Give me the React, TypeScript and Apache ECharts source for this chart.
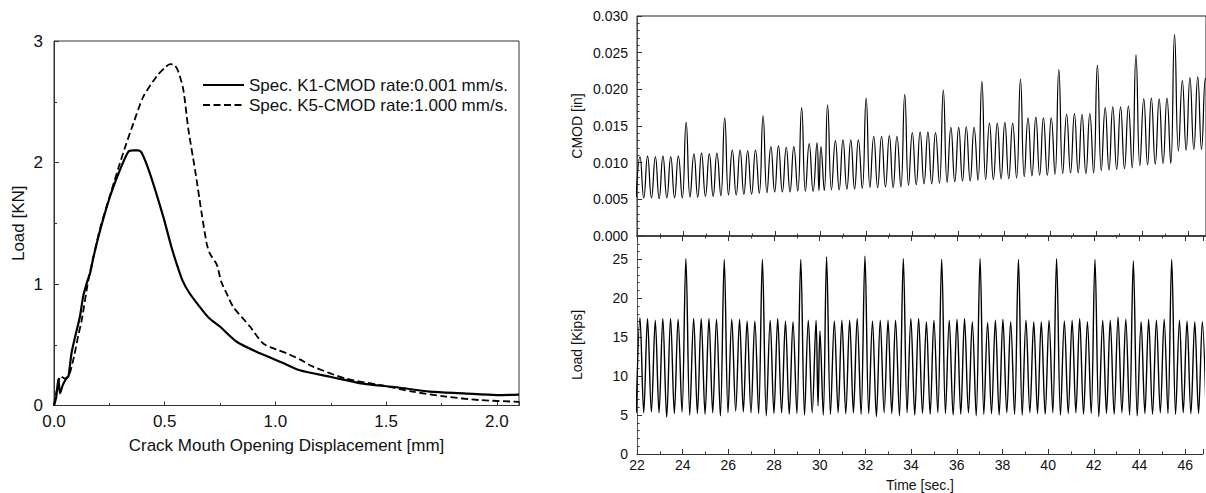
import React, { useEffect, useRef } from "react";
import * as echarts from "echarts";

const FONT = "'Liberation Sans', Arial, Helvetica, sans-serif";
const INK = "#111";
const AX = "#333";

// ---------- Left panel: Load vs CMOD ----------
const k1Cmod = [0, 0.01, 0.02, 0.027, 0.04, 0.055, 0.065, 0.07, 0.08, 0.1, 0.117, 0.132, 0.15, 0.163, 0.178, 0.208, 0.253, 0.298, 0.336, 0.358, 0.38, 0.396, 0.433, 0.494, 0.531, 0.555, 0.58, 0.61, 0.659, 0.7, 0.749, 0.825, 0.93, 1.035, 1.11, 1.246, 1.396, 1.547, 1.697, 1.848, 1.999, 2.1];
const k1Load = [0, 0.07, 0.22, 0.1, 0.17, 0.22, 0.24, 0.3, 0.44, 0.6, 0.73, 0.9, 1.02, 1.09, 1.22, 1.44, 1.72, 1.94, 2.09, 2.1, 2.1, 2.08, 1.91, 1.55, 1.3, 1.16, 1.03, 0.93, 0.81, 0.72, 0.65, 0.525, 0.43, 0.35, 0.29, 0.237, 0.18, 0.15, 0.114, 0.1, 0.086, 0.09];
const k5Cmod = [0, 0.015, 0.03, 0.05, 0.07, 0.09, 0.11, 0.125, 0.155, 0.178, 0.21, 0.26, 0.29, 0.32, 0.358, 0.403, 0.464, 0.5, 0.524, 0.545, 0.561, 0.584, 0.607, 0.637, 0.667, 0.69, 0.704, 0.735, 0.755, 0.78, 0.81, 0.885, 0.945, 1.005, 1.05, 1.11, 1.17, 1.32, 1.47, 1.62, 1.77, 1.92, 2.1];
const k5Load = [0, 0.15, 0.24, 0.22, 0.26, 0.4, 0.58, 0.7, 1.03, 1.22, 1.47, 1.77, 1.95, 2.12, 2.32, 2.54, 2.71, 2.78, 2.81, 2.8, 2.75, 2.6, 2.27, 1.94, 1.58, 1.33, 1.25, 1.16, 1.02, 0.92, 0.81, 0.65, 0.51, 0.46, 0.43, 0.38, 0.32, 0.22, 0.17, 0.114, 0.073, 0.045, 0.03];
const legendNames = ["Spec. K1-CMOD rate:0.001 mm/s.", "Spec. K5-CMOD rate:1.000 mm/s."];

// ---------- Right panels: cyclic test (time of each load peak) ----------
const peakTimes = [
  22.13, 22.46, 22.8, 23.13, 23.47, 23.8, 24.14, 24.48, 24.81, 25.15, 25.48, 25.82,
  26.15, 26.49, 26.82, 27.16, 27.49, 27.83, 28.16, 28.5, 28.83, 29.17, 29.5, 29.84,
  30.01,
  30.3, 30.64, 30.97, 31.31, 31.64, 31.98, 32.31, 32.65, 32.99, 33.32,
  33.66, 33.99, 34.33, 34.67, 35.0, 35.34, 35.67, 36.01, 36.34, 36.68,
  37.02, 37.35, 37.69, 38.02, 38.36, 38.7, 39.03, 39.37, 39.7, 40.04,
  40.37, 40.71, 41.05, 41.38, 41.72, 42.05, 42.39, 42.72, 43.06, 43.4,
  43.73, 44.07, 44.4, 44.74, 45.08, 45.41, 45.75, 46.08, 46.42, 46.75,
];
const cmodPeaks = [
  0.0108, 0.0109, 0.0108, 0.0109, 0.0108, 0.0109, 0.0155, 0.0112, 0.0113, 0.0112, 0.0113, 0.0161,
  0.0117, 0.0117, 0.0116, 0.0117, 0.0164, 0.0122, 0.0123, 0.0121, 0.0122, 0.0175, 0.0126, 0.0127,
  0.0122,
  0.0179, 0.013, 0.0131, 0.0131, 0.0131, 0.0188, 0.0136, 0.0136, 0.0137, 0.0136,
  0.0193, 0.0141, 0.0142, 0.0142, 0.0141, 0.0199, 0.0148, 0.0148, 0.0149, 0.0148,
  0.0211, 0.0154, 0.0154, 0.0155, 0.0154, 0.0214, 0.0161, 0.0162, 0.0161, 0.0161,
  0.0227, 0.0166, 0.0167, 0.0166, 0.0167, 0.0233, 0.0175, 0.0176, 0.0176, 0.0177,
  0.0247, 0.0187, 0.0188, 0.0187, 0.0188, 0.0275, 0.0212, 0.0216, 0.0217, 0.0215,
];
const cmodTroughs = [
  0.0053, 0.0052, 0.0052, 0.0051, 0.0052, 0.0052, 0.0052, 0.0053, 0.0053, 0.0054, 0.0054, 0.0055,
  0.0056, 0.0056, 0.0057, 0.0057, 0.0058, 0.0059, 0.006, 0.006, 0.006, 0.0061, 0.0061, 0.0061,
  0.0062,
  0.0062, 0.0063, 0.0063, 0.0064, 0.0064, 0.0065, 0.0066, 0.0066, 0.0067, 0.0066,
  0.0067, 0.0069, 0.007, 0.0071, 0.0071, 0.0072, 0.0073, 0.0074, 0.0075, 0.0075,
  0.0076, 0.0077, 0.0077, 0.0078, 0.0078, 0.0079, 0.0081, 0.0082, 0.0083, 0.0083,
  0.0084, 0.0085, 0.0086, 0.0086, 0.0085, 0.0086, 0.0089, 0.009, 0.0091, 0.0092,
  0.0093, 0.0096, 0.0097, 0.0098, 0.0099, 0.0099, 0.0116, 0.0117, 0.0118, 0.0118,
  0.0119,
];
const loadPeaks = [
  17.5, 17.4, 17.2, 17.4, 17.4, 17.3, 25.1, 17.4, 17.4, 17.4, 17.3, 25.0,
  17.3, 17.3, 17.1, 17.1, 25.0, 17.2, 17.4, 17.1, 17.0, 25.0, 17.2, 17.2,
  15.8,
  25.3, 17.1, 17.2, 17.2, 17.4, 25.4, 17.1, 17.2, 17.2, 17.2,
  25.1, 17.4, 17.4, 17.0, 17.2, 25.0, 17.2, 17.3, 17.4, 17.0,
  25.1, 16.9, 17.2, 17.3, 17.0, 25.0, 17.2, 17.0, 17.0, 17.2,
  25.1, 17.1, 17.2, 17.4, 17.0, 25.0, 17.2, 17.2, 17.6, 17.3,
  24.8, 17.0, 17.3, 17.2, 17.3, 25.0, 17.2, 17.1, 17.0, 17.0,
];
const loadTroughs = [
  5.3, 5.3, 5.4, 5.3, 4.7, 5.2, 5.4, 5.0, 5.2, 5.1, 5.3, 4.9,
  5.3, 5.5, 5.4, 5.3, 5.2, 4.9, 5.2, 5.3, 5.1, 5.2, 5.0, 5.3,
  6.2,
  5.0, 5.1, 5.3, 5.2, 5.3, 5.1, 5.2, 4.8, 5.3, 5.2,
  4.9, 5.3, 5.0, 5.2, 5.1, 5.3, 5.2, 5.0, 5.1, 5.3,
  4.9, 5.1, 5.2, 5.0, 5.3, 5.1, 5.0, 5.3, 5.2, 5.1,
  5.3, 5.0, 5.2, 5.3, 5.1, 5.2, 4.8, 5.2, 5.1, 5.3,
  5.0, 4.9, 5.2, 5.1, 5.3, 5.2, 5.1, 5.3, 5.2, 5.2,
  5.3,
];

function pairs(xs: number[], ys: number[]) {
  return xs.map((x, i) => [x, ys[i]]);
}

// peaks at peakTimes, troughs half-way between consecutive peaks
function cycles(peaks: number[], troughs: number[]) {
  const n = peakTimes.length;
  const pts: number[][] = [];
  pts.push([peakTimes[0] - (peakTimes[1] - peakTimes[0]) / 2, troughs[0]]);
  for (let i = 0; i < n; i++) {
    pts.push([peakTimes[i], peaks[i]]);
    const tt = i < n - 1 ? (peakTimes[i] + peakTimes[i + 1]) / 2 : peakTimes[i] + (peakTimes[i] - peakTimes[i - 1]) / 2;
    pts.push([tt, troughs[i + 1]]);
  }
  return pts;
}

const isMult = (v: number, step: number) => Math.abs(v / step - Math.round(v / step)) < 1e-6;

function tickAxis(extra: any) {
  return {
    type: "value",
    axisLine: { show: false },
    axisLabel: { show: false },
    splitLine: { show: false },
    ...extra,
  };
}

const labelStyle = (size: number) => ({ fontSize: size, color: INK, fontFamily: FONT });

const option: any = {
  animation: false,
  backgroundColor: "#fff",
  textStyle: { fontFamily: FONT },
  grid: [
    { left: 54, top: 41, right: 687, bottom: 87.5, show: true, borderColor: AX, borderWidth: 1 },
    { left: 637, top: 16, right: -2, height: 220, show: true, borderColor: "#222", borderWidth: 1 },
    { left: 637, top: 236, right: -2, bottom: 38 },
  ],
  legend: {
    orient: "vertical",
    left: 197,
    top: 71.5,
    itemWidth: 41,
    itemHeight: 14,
    itemGap: 3,
    data: legendNames,
    itemStyle: { opacity: 0 },
    textStyle: { fontSize: 17, color: INK, fontFamily: FONT },
  },
  xAxis: [
    {
      type: "value", gridIndex: 0, position: "bottom", min: 0, max: 2.1, interval: 0.5,
      axisLine: { show: true, lineStyle: { color: AX, width: 1 } },
      axisTick: { show: true, inside: true, length: 4, lineStyle: { color: AX } },
      axisLabel: { ...labelStyle(17), margin: 7, formatter: (v: number) => (isMult(v, 0.5) ? v.toFixed(1) : "") },
      splitLine: { show: false },
      name: "Crack Mouth Opening Displacement [mm]", nameLocation: "middle", nameGap: 31,
      nameTextStyle: labelStyle(17),
    },
    tickAxis({ gridIndex: 0, position: "bottom", min: 0, max: 2.1, interval: 0.25,
      axisTick: { show: true, inside: true, length: 2.5, lineStyle: { color: AX } } }),
    {
      type: "value", gridIndex: 1, position: "bottom", min: 22, max: 46.78, interval: 2,
      axisLine: { show: true, lineStyle: { color: "#444", width: 2 } },
      axisTick: { show: true, inside: true, length: 5, lineStyle: { color: AX } },
      axisLabel: { show: false },
      splitLine: { show: false },
    },
    tickAxis({ gridIndex: 1, position: "bottom", min: 22, max: 46.78, interval: 1,
      axisTick: { show: true, inside: true, length: 2.5, lineStyle: { color: AX } } }),
    {
      type: "value", gridIndex: 2, position: "bottom", min: 22, max: 46.78, interval: 2,
      axisLine: { show: true, lineStyle: { color: AX, width: 1 } },
      axisTick: { show: true, inside: true, length: 5, lineStyle: { color: AX } },
      axisLabel: { ...labelStyle(14), margin: 4, formatter: (v: number) => (isMult(v, 2) ? String(Math.round(v)) : "") },
      splitLine: { show: false },
      name: "Time [sec.]", nameLocation: "middle", nameGap: 24, nameTextStyle: labelStyle(14),
    },
    tickAxis({ gridIndex: 2, position: "bottom", min: 22, max: 46.78, interval: 1,
      axisTick: { show: true, inside: true, length: 2.5, lineStyle: { color: AX } } }),
    tickAxis({ gridIndex: 2, position: "top", min: 22, max: 46.78, interval: 2,
      axisTick: { show: true, inside: true, length: 5, lineStyle: { color: AX } } }),
    tickAxis({ gridIndex: 2, position: "top", min: 22, max: 46.78, interval: 1,
      axisTick: { show: true, inside: true, length: 2.5, lineStyle: { color: AX } } }),
  ],
  yAxis: [
    {
      type: "value", gridIndex: 0, position: "left", min: 0, max: 3, interval: 1,
      axisLine: { show: true, lineStyle: { color: AX, width: 1 } },
      axisTick: { show: true, inside: true, length: 5, lineStyle: { color: AX } },
      axisLabel: { ...labelStyle(17), margin: 11 },
      splitLine: { show: false },
      name: "Load [KN]", nameLocation: "middle", nameGap: 27, nameTextStyle: labelStyle(17),
    },
    tickAxis({ gridIndex: 0, position: "left", min: 0, max: 3, interval: 0.5,
      axisTick: { show: true, inside: true, length: 3, lineStyle: { color: AX } } }),
    {
      type: "value", gridIndex: 1, position: "left", min: 0, max: 0.03, interval: 0.005,
      axisLine: { show: true, lineStyle: { color: "#555", width: 1 } },
      axisTick: { show: true, inside: true, length: 5, lineStyle: { color: AX } },
      axisLabel: { ...labelStyle(14), margin: 9, formatter: (v: number) => v.toFixed(3) },
      splitLine: { show: false },
      name: "CMOD [in]", nameLocation: "middle", nameGap: 53, nameTextStyle: labelStyle(14),
    },
    tickAxis({ gridIndex: 1, position: "left", min: 0, max: 0.03, interval: 0.001,
      axisTick: { show: true, inside: true, length: 2.5, lineStyle: { color: AX } } }),
    {
      type: "value", gridIndex: 2, position: "left", min: 0, max: 28, interval: 5,
      axisLine: { show: true, lineStyle: { color: "#555", width: 1 } },
      axisTick: { show: true, inside: true, length: 5, lineStyle: { color: AX } },
      axisLabel: { ...labelStyle(14), margin: 9, formatter: (v: number) => (isMult(v, 5) ? String(Math.round(v)) : "") },
      splitLine: { show: false },
      name: "Load [Kips]", nameLocation: "middle", nameGap: 53, nameTextStyle: labelStyle(14),
    },
    tickAxis({ gridIndex: 2, position: "left", min: 0, max: 28, interval: 1,
      axisTick: { show: true, inside: true, length: 2.5, lineStyle: { color: AX } } }),
  ],
  series: [
    {
      name: legendNames[0], type: "line", xAxisIndex: 0, yAxisIndex: 0, symbol: "none", smooth: 0.25,
      data: pairs(k1Cmod, k1Load),
      lineStyle: { color: "#000", width: 2.2, type: "solid" }, itemStyle: { color: "#000" },
    },
    {
      name: legendNames[1], type: "line", xAxisIndex: 0, yAxisIndex: 0, symbol: "none", smooth: 0.25,
      data: pairs(k5Cmod, k5Load),
      lineStyle: { color: "#000", width: 1.8, type: [7, 3.5] }, itemStyle: { color: "#000" },
    },
    {
      name: "CMOD", type: "line", xAxisIndex: 2, yAxisIndex: 2, symbol: "none", smooth: 0.5,
      data: cycles(cmodPeaks, cmodTroughs), clip: true,
      lineStyle: { color: "#000", width: 1.2 },
    },
    {
      name: "Load", type: "line", xAxisIndex: 4, yAxisIndex: 4, symbol: "none", smooth: 0.35,
      data: cycles(loadPeaks, loadTroughs), clip: true,
      lineStyle: { color: "#000", width: 1.4 },
    },
  ],
};

export default function App() {
  const ref = useRef<HTMLDivElement>(null);
  useEffect(() => {
    document.body.style.margin = "0";
    const chart = echarts.init(ref.current!, undefined, { renderer: "svg", width: 1206, height: 493 });
    chart.setOption(option);
    return () => chart.dispose();
  }, []);
  return <div ref={ref} style={{ width: 1206, height: 493, background: "#fff" }} />;
}
